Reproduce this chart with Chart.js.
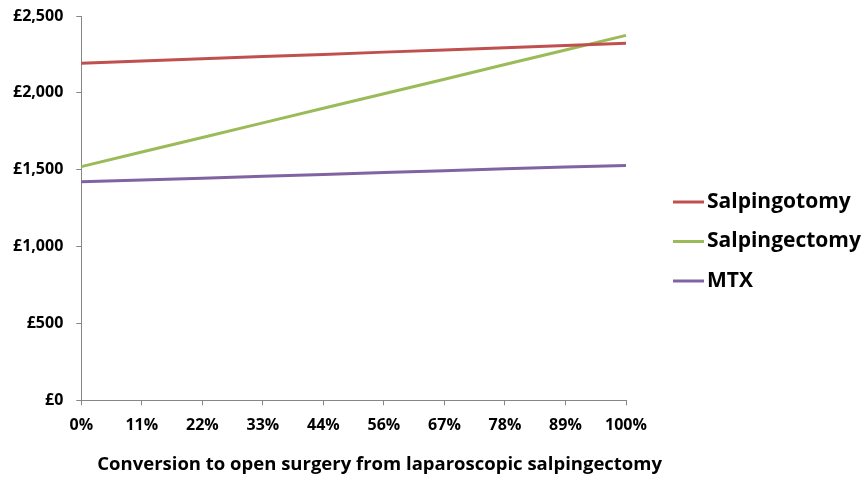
<!DOCTYPE html>
<html>
<head>
<meta charset="utf-8">
<script src="https://cdn.jsdelivr.net/npm/chart.js@4"></script>
<style>
  html, body { margin: 0; padding: 0; background: #fff; }
  #wrap { width: 862px; height: 480px; position: relative; }
</style>
</head>
<body>
<div id="wrap"><canvas id="costChart"></canvas></div>
<script>
// ─── Data ───
const conversionRates = ['0%', '11%', '22%', '33%', '44%', '56%', '67%', '78%', '89%', '100%'];
const salpingotomyCost = [2193, 2207, 2222, 2236, 2250, 2265, 2279, 2294, 2308, 2322];
const salpingectomyCost = [1520, 1615, 1710, 1805, 1900, 1994, 2089, 2184, 2279, 2374];
const mtxCost = [1421, 1433, 1445, 1457, 1469, 1482, 1494, 1506, 1517, 1528];
const yTicks = [0, 500, 1000, 1500, 2000, 2500];

const AXIS_GREY = '#868686';
const FONT = "'Open Sans', sans-serif";

// legend + axis caption drawn next to the plot area
const sideLegendPlugin = {
    id: 'sideLegend',
    afterDraw: (chart) => {
        const ctx = chart.ctx;
        const area = chart.chartArea;
        ctx.save();

        // x axis caption
        ctx.fillStyle = '#000';
        ctx.font = `bold 18.5px ${FONT}`;
        ctx.textAlign = 'center';
        ctx.textBaseline = 'middle';
        ctx.fillText('Conversion to open surgery from laparoscopic salpingectomy', area.left + area.width / 2 + 26, 465);

        // legend
        const x0 = area.right + 47;
        let y = 202;
        ctx.font = `bold 21px ${FONT}`;
        ctx.textAlign = 'left';
        chart.data.datasets.forEach(ds => {
            ctx.strokeStyle = ds.borderColor;
            ctx.lineWidth = 3;
            ctx.beginPath();
            ctx.moveTo(x0, y);
            ctx.lineTo(x0 + 31, y);
            ctx.stroke();
            ctx.fillText(ds.label, x0 + 34, y);
            y += 39.5;
        });
        ctx.restore();
    }
};

Chart.defaults.font.family = FONT;
Chart.defaults.color = '#000';

const ctx = document.getElementById('costChart').getContext('2d');
new Chart(ctx, {
    type: 'line',
    data: {
        labels: conversionRates,
        datasets: [{
            label: 'Salpingotomy',
            data: salpingotomyCost,
            borderColor: '#C0504D',
            borderWidth: 3,
            pointRadius: 0,
            tension: 0,
            fill: false
        }, {
            label: 'Salpingectomy',
            data: salpingectomyCost,
            borderColor: '#9BBB59',
            borderWidth: 3,
            pointRadius: 0,
            tension: 0,
            fill: false
        }, {
            label: 'MTX',
            data: mtxCost,
            borderColor: '#8064A2',
            borderWidth: 3,
            pointRadius: 0,
            tension: 0,
            fill: false
        }]
    },
    options: {
        responsive: true,
        maintainAspectRatio: false,
        animation: false,
        layout: { padding: { left: 0, right: 236, top: 16, bottom: 33.5 } },
        plugins: {
            legend: { display: false },
            tooltip: { enabled: false }
        },
        scales: {
            x: {
                offset: false,
                grid: { drawOnChartArea: false, drawTicks: true, tickLength: 5, color: AXIS_GREY },
                border: { color: AXIS_GREY, width: 1 },
                ticks: { font: { size: 16, weight: 'bold' }, padding: 11, maxRotation: 0, autoSkip: false }
            },
            y: {
                min: 0,
                max: 2500,
                afterBuildTicks: axis => { axis.ticks = yTicks.map(v => ({ value: v })); },
                // tick padding would otherwise be added above/below the plot area
                afterFit: axis => { axis.paddingTop = 0; axis.paddingBottom = 0; },
                grid: { drawOnChartArea: false, drawTicks: true, tickLength: 5, color: AXIS_GREY },
                border: { color: AXIS_GREY, width: 1 },
                ticks: {
                    font: { size: 16, weight: 'bold' },
                    padding: 13,
                    callback: v => '£' + v.toLocaleString('en-GB')
                }
            }
        }
    },
    plugins: [sideLegendPlugin]
});
</script>
</body>
</html>
